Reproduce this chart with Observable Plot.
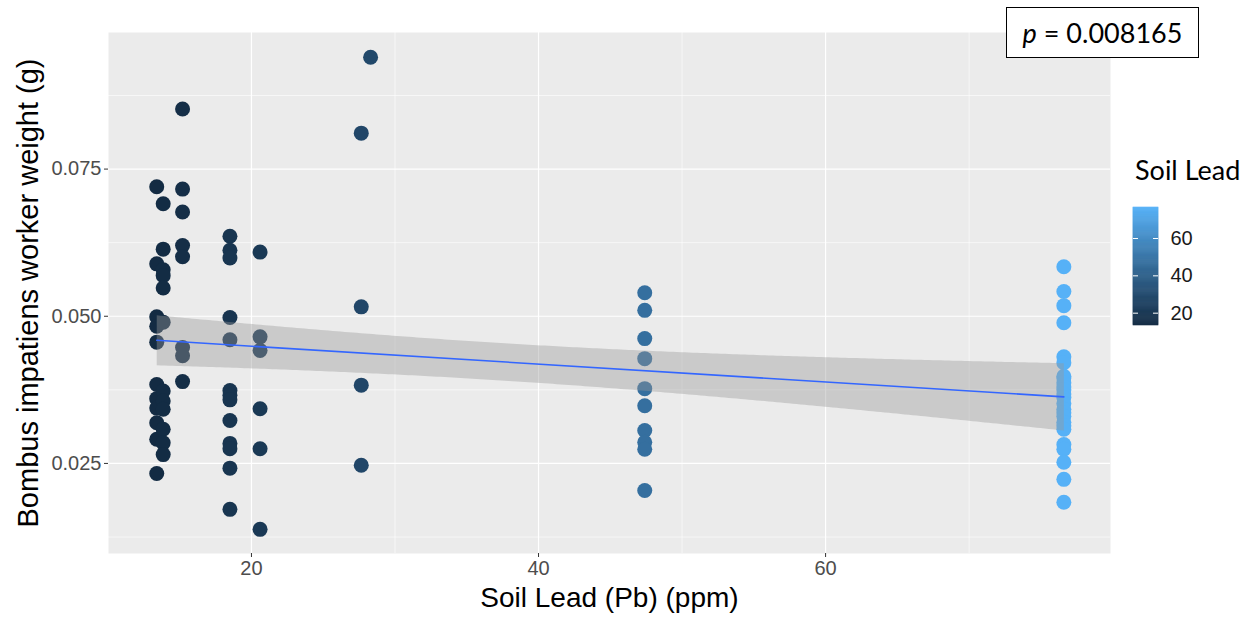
<!DOCTYPE html>
<html><head><meta charset="utf-8">
<script src="https://cdn.jsdelivr.net/npm/d3@7"></script>
<script src="https://cdn.jsdelivr.net/npm/@observablehq/plot@0.6"></script>
<style>
body{margin:0;background:#fff;width:1260px;height:619px;overflow:hidden;position:relative;font-family:"Liberation Sans",Arial,sans-serif}
#chart{position:absolute;left:0;top:0}
#legend{position:absolute;left:1120px;top:195px}
#legtitle{position:absolute;left:1135px;top:156px;font-family:Lato,sans-serif;font-size:27px;color:#000;line-height:1;white-space:nowrap}
#pbox{position:absolute;left:1006px;top:7px;width:193px;height:51px;border:1.5px solid #000;box-sizing:border-box;font-family:Lato,sans-serif;font-size:27px;display:flex;align-items:center;justify-content:center;color:#000;background:#fff}
</style></head>
<body>
<div id="chart"></div>
<div id="legtitle">Soil Lead</div>
<div id="legend"></div>
<div id="pbox"><span><i>p</i> = 0.008165</span></div>
<script>
// Site soil lead values (ppm)
const siteLead = [13.4, 13.85, 15.2, 18.5, 20.6, 27.65, 28.3, 47.4, 76.6];
// Worker weights (g) per site
const weightsSiteA = [0.0720, 0.0589, 0.0499, 0.0483, 0.0456, 0.0384, 0.0360, 0.0344, 0.0319, 0.0291, 0.0233];
const weightsSiteB = [0.0691, 0.0614, 0.0579, 0.0569, 0.0548, 0.0490, 0.0373, 0.0356, 0.0342, 0.0308, 0.0285, 0.0265];
const weightsSiteC = [0.0852, 0.0716, 0.0677, 0.0620, 0.0601, 0.0447, 0.0433, 0.0389];
const weightsSiteD = [0.0636, 0.0612, 0.0599, 0.0498, 0.0460, 0.0374, 0.0366, 0.0358, 0.0323, 0.0284, 0.0275, 0.0242, 0.0172];
const weightsSiteE = [0.0609, 0.0465, 0.0442, 0.0343, 0.0275, 0.0138];
const weightsSiteF = [0.0811, 0.0516, 0.0383, 0.0247];
const weightsSiteG = [0.0940];
const weightsSiteH = [0.0540, 0.0510, 0.0462, 0.0428, 0.0377, 0.0348, 0.0306, 0.0286, 0.0274, 0.0204];
const weightsSiteI = [0.0584, 0.0542, 0.0518, 0.0489, 0.0431, 0.0421, 0.0398, 0.0395, 0.0387, 0.0380, 0.0375, 0.0368, 0.0362, 0.0352, 0.0342, 0.0336, 0.0330, 0.0320, 0.0314, 0.0308, 0.0282, 0.0274, 0.0252, 0.0223, 0.0184];

const xTicks = [20, 40, 60];
const xMinorTicks = [30, 50, 70];
const yTicks = [0.025, 0.050, 0.075];
const yMinorTicks = [0.0125, 0.0375, 0.0625, 0.0875];
const legendTicks = [20, 40, 60];

const siteWeights = [weightsSiteA, weightsSiteB, weightsSiteC, weightsSiteD, weightsSiteE, weightsSiteF, weightsSiteG, weightsSiteH, weightsSiteI];
const data = siteWeights.flatMap((ws, i) => ws.map(w => ({lead: siteLead[i], weight: w})));

const leadExtent = d3.extent(data, d => d.lead);
const colorScale = {type: "linear", domain: leadExtent, range: ["#132B43", "#56B1F7"], interpolate: "lab"};

const chart = Plot.plot({
  width: 1260, height: 619,
  marginLeft: 108, marginRight: 150, marginTop: 32, marginBottom: 66,
  style: {fontFamily: "'Liberation Sans', Arial, sans-serif", background: "transparent", overflow: "visible"},
  x: {domain: [10.04, 79.85]},
  y: {domain: [0.0097, 0.0982]},
  color: colorScale,
  marks: [
    Plot.frame({fill: "#EBEBEB", stroke: null}),
    Plot.ruleX(xMinorTicks, {stroke: "white", strokeWidth: 0.6}),
    Plot.ruleY(yMinorTicks, {stroke: "white", strokeWidth: 0.6}),
    Plot.ruleX(xTicks, {stroke: "white", strokeWidth: 1.2}),
    Plot.ruleY(yTicks, {stroke: "white", strokeWidth: 1.2}),
    Plot.dot(data, {x: "lead", y: "weight", fill: "lead", r: 7.5, stroke: null}),
    Plot.linearRegressionY(data, {x: "lead", y: "weight", ci: 0.95, stroke: "#3366FF", strokeWidth: 1.6, fill: "#999999", fillOpacity: 0.4}),
    Plot.axisX({ticks: xTicks, tickSize: 4, tickPadding: 3, fontSize: 20, stroke: "#333333", fill: "#4D4D4D", label: null}),
    Plot.axisY({ticks: yTicks, tickSize: 4, tickPadding: 3, fontSize: 20, stroke: "#333333", fill: "#4D4D4D", tickFormat: d3.format(".3f"), label: null}),
    Plot.text(["Soil Lead (Pb) (ppm)"], {frameAnchor: "bottom", dy: 53, fontSize: 28, fill: "#000"}),
    Plot.text(["Bombus impatiens worker weight (g)"], {frameAnchor: "left", textAnchor: "middle", dx: -80, rotate: -90, fontSize: 29, fill: "#000"})
  ]
});
document.getElementById("chart").appendChild(chart);

const legendSteps = d3.range(leadExtent[0], leadExtent[1], 0.5);
const legend = Plot.plot({
  width: 140, height: 150,
  marginLeft: 13, marginRight: 102, marginTop: 12, marginBottom: 20,
  style: {fontFamily: "'Liberation Sans', Arial, sans-serif", background: "transparent", overflow: "visible"},
  x: {domain: [0, 1], axis: null},
  y: {domain: leadExtent, axis: null},
  color: colorScale,
  marks: [
    Plot.rect(legendSteps, {x1: 0, x2: 1, y1: d => d, y2: d => Math.min(d + 0.5, leadExtent[1]), fill: d => d + 0.25, stroke: d => d + 0.25, strokeWidth: 0.6}),
    Plot.ruleY(legendTicks, {x1: 0, x2: 0.2, stroke: "white", strokeWidth: 1}),
    Plot.ruleY(legendTicks, {x1: 0.8, x2: 1, stroke: "white", strokeWidth: 1}),
    Plot.axisY({anchor: "right", ticks: legendTicks, tickSize: 0, tickPadding: 12, fontSize: 20, fill: "#1A1A1A", label: null})
  ]
});
document.getElementById("legend").appendChild(legend);
</script>
</body></html>
